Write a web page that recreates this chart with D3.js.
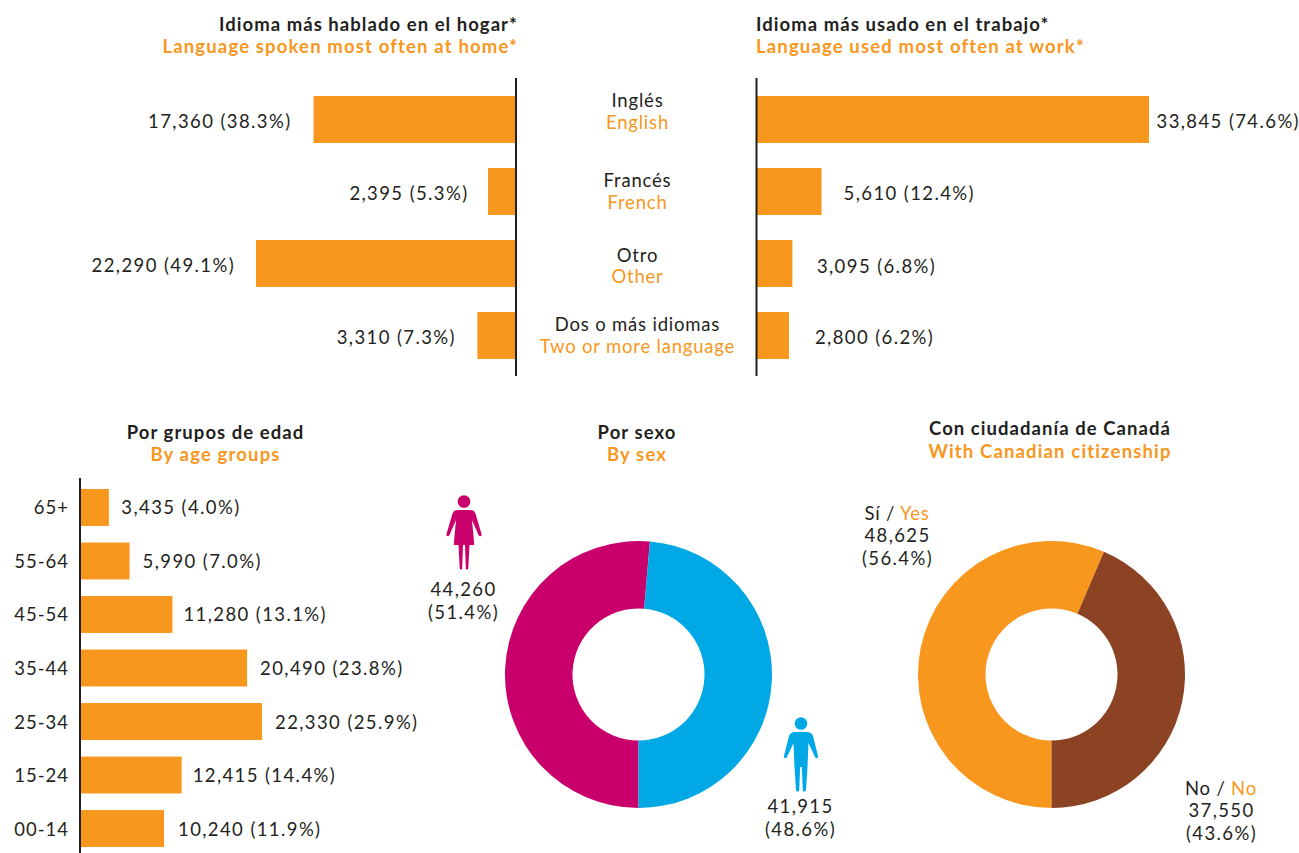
<!DOCTYPE html>
<html><head><meta charset="utf-8">
<script src="https://cdn.jsdelivr.net/npm/d3@7/dist/d3.min.js"></script>
<style>
html,body{margin:0;padding:0;background:#fff}
svg{display:block}
text{font-family:"Lato",sans-serif;font-size:18.5px;fill:#231f20;letter-spacing:.8px}
.b{font-weight:700;letter-spacing:1.05px}
.o{fill:#f8971d}
.b.o{letter-spacing:1.15px}
.n{letter-spacing:1.4px}
.a{letter-spacing:1px}
</style></head><body><svg id="c" width="1299" height="853"></svg>
<script>
const langEs=["Inglés","Francés","Otro","Dos o más idiomas"];
const langEn=["English","French","Other","Two or more language"];
const homeValues=[17360,2395,22290,3310];
const homeLabels=["17,360 (38.3%)","2,395 (5.3%)","22,290 (49.1%)","3,310 (7.3%)"];
const workValues=[33845,5610,3095,2800];
const workLabels=["33,845 (74.6%)","5,610 (12.4%)","3,095 (6.8%)","2,800 (6.2%)"];
const ages=["65+","55-64","45-54","35-44","25-34","15-24","00-14"];
const ageValues=[3435,5990,11280,20490,22330,12415,10240];
const ageLabels=["3,435 (4.0%)","5,990 (7.0%)","11,280 (13.1%)","20,490 (23.8%)","22,330 (25.9%)","12,415 (14.4%)","10,240 (11.9%)"];
const sexValues=[44260,41915];
const citizenValues=[48625,37550];
const ORANGE="#f8971d",PINK="#c9006b",BLUE="#00a9e6",BROWN="#8b4324",INK="#231f20";
const svg=d3.select("#c");
function title(x,y,a,es,en,dy=22){
  svg.append("text").attr("class","b").attr("x",x).attr("y",y).attr("text-anchor",a).text(es);
  svg.append("text").attr("class","b o").attr("x",x).attr("y",y+dy).attr("text-anchor",a).text(en);
}
title(518,30.5,"end","Idioma más hablado en el hogar*","Language spoken most often at home*");
title(756,30.5,"start","Idioma más usado en el trabajo*","Language used most often at work*");
title(215.5,439,"middle","Por grupos de edad","By age groups");
title(637,439,"middle","Por sexo","By sex");
title(1050,435,"middle","Con ciudadanía de Canadá","With Canadian citizenship",23);

const rowY=d3.scaleOrdinal().domain(langEs).range([96,168,240,312]);
const rowH=47;
const xL=d3.scaleLinear().domain([0,22290]).range([0,260]);
const xR=d3.scaleLinear().domain([0,33845]).range([0,392.5]);
const homeGap=[22,19.5,21,21.5],workGap=[7.5,22,24.5,26];
langEs.forEach((c,i)=>{
  const y=rowY(c);
  const wl=xL(homeValues[i]);
  svg.append("rect").attr("x",516-wl).attr("y",y).attr("width",wl).attr("height",rowH).attr("fill",ORANGE);
  svg.append("text").attr("class","n").attr("x",516-wl-homeGap[i]).attr("y",y+31.5).attr("text-anchor","end").text(homeLabels[i]);
  const wr=xR(workValues[i]);
  svg.append("rect").attr("x",756.5).attr("y",y).attr("width",wr).attr("height",rowH).attr("fill",ORANGE);
  svg.append("text").attr("class","n").attr("x",756.5+wr+workGap[i]).attr("y",[128,200,273,344][i]).text(workLabels[i]);
  const ty=[107,187,262,331][i];
  svg.append("text").attr("x",637.5).attr("y",ty).attr("text-anchor","middle").text(c);
  svg.append("text").attr("class","o").attr("x",637.5).attr("y",ty+[22,22,21,22][i]).attr("text-anchor","middle").text(langEn[i]);
});
[516,756.5].forEach(x=>svg.append("line").attr("x1",x).attr("x2",x).attr("y1",78).attr("y2",376).attr("stroke",INK).attr("stroke-width",2));

const yA=d3.scaleBand().domain(ages).range([489,847]).paddingInner(0.31);
const xA=d3.scaleLinear().domain([0,22330]).range([0,181]);
const ageGap=[12.5,13,11,13,13,11,14];
ages.forEach((a,i)=>{
  const y=yA(a),h=yA.bandwidth(),w=xA(ageValues[i]);
  svg.append("rect").attr("x",81).attr("y",y).attr("width",w).attr("height",h).attr("fill",ORANGE);
  svg.append("text").attr("class","a").attr("x",69).attr("y",y+h/2+7).attr("text-anchor","end").text(a);
  svg.append("text").attr("class","n").attr("x",81+w+ageGap[i]).attr("y",y+h/2+7).text(ageLabels[i]);
});
svg.append("line").attr("x1",80).attr("x2",80).attr("y1",478).attr("y2",853).attr("stroke",INK).attr("stroke-width",2);

function donut(cx,cy,vals,cols){
  const p=d3.pie().sort(null).startAngle(Math.PI).endAngle(3*Math.PI)(vals);
  const arc=d3.arc().innerRadius(66).outerRadius(133.5);
  svg.append("g").attr("transform",`translate(${cx},${cy})`).selectAll("path").data(p).join("path")
    .attr("d",arc).attr("fill",(d,i)=>cols[i]);
}
donut(638.5,674.5,sexValues,[PINK,BLUE]);
donut(1051.5,674.5,citizenValues,[ORANGE,BROWN]);

function person(cx,top,col,female){
  const g=svg.append("g").attr("transform",`translate(${cx},${top})`).attr("fill",col);
  g.append("circle").attr("cx",0).attr("cy",6.5).attr("r",6.3);
  if(female){
    g.append("path").attr("d","M-6,15 H6 C9,15 10.5,16 11.5,18.5 L17.5,39 C18,41.5 15.5,42 14.5,40 L8,25 L10.3,50 H5.5 L4.3,73 C4,75 2,75 1.8,73 L1,50 H-1 L-1.8,73 C-2,75 -4,75 -4.3,73 L-5.5,50 H-10.3 L-8,25 L-14.5,40 C-15.5,42 -18,41.5 -17.5,39 L-11.5,18.5 C-10.5,16 -9,15 -6,15Z");
  } else {
    g.append("path").attr("d","M-6,15 H6 C9,15 11,16.5 12,19 L17,39 C17.5,41.5 15,42 14,40 L7.5,26 L6.5,50 L5,73 C4.8,75 2,75 1.8,73 L0.8,50 H-0.8 L-1.8,73 C-2,75 -4.8,75 -5,73 L-6.5,50 L-7.5,26 L-14,40 C-15,42 -17.5,41.5 -17,39 L-12,19 C-11,16.5 -9,15 -6,15Z");
  }
}
person(464,495,PINK,true);
person(801,717,BLUE,false);
function mid(x,y,t){svg.append("text").attr("class","n").attr("x",x).attr("y",y).attr("text-anchor","middle").text(t);}
mid(463.5,596,"44,260");mid(463.5,619,"(51.4%)");
mid(800.5,813,"41,915");mid(800.5,836,"(48.6%)");
const yes=svg.append("text").attr("x",897).attr("y",520).attr("text-anchor","middle");
yes.append("tspan").text("Sí / ");yes.append("tspan").attr("class","o").text("Yes");
mid(897.5,542,"48,625");mid(897.5,565,"(56.4%)");
const no=svg.append("text").attr("x",1221).attr("y",795).attr("text-anchor","middle");
no.append("tspan").text("No / ");no.append("tspan").attr("class","o").text("No");
mid(1221.5,817,"37,550");mid(1221.5,840,"(43.6%)");
</script></body></html>
